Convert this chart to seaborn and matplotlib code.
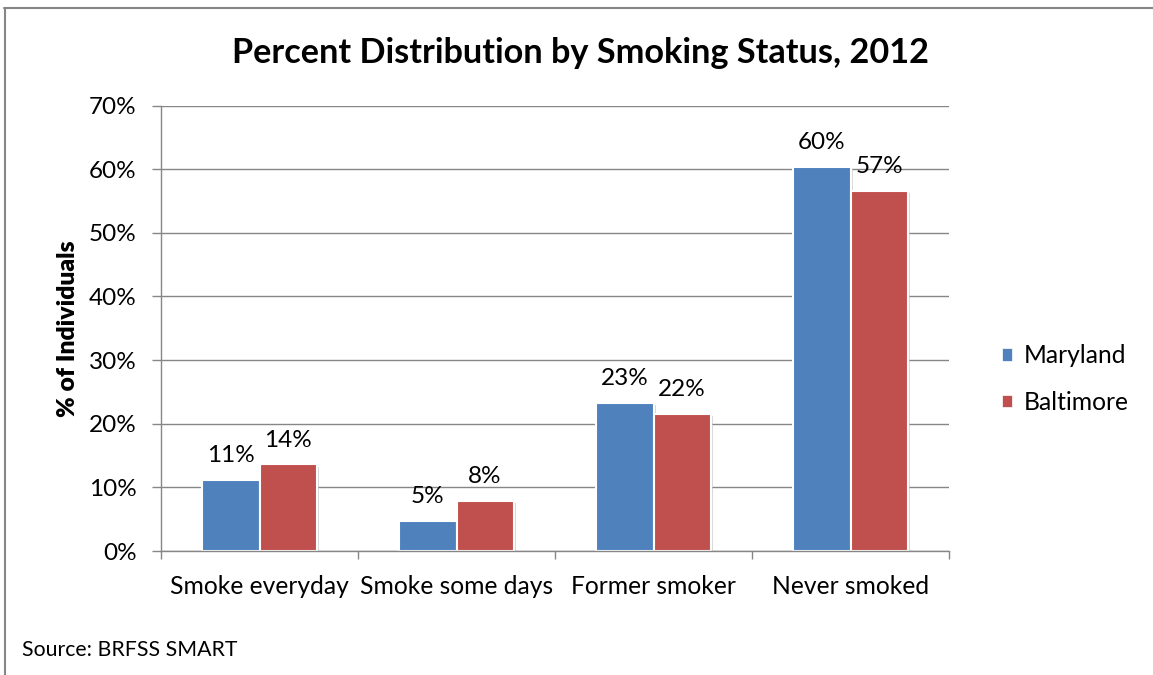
import matplotlib
matplotlib.use("Agg")
import matplotlib.pyplot as plt
from matplotlib.lines import Line2D
from matplotlib.patches import Patch
from matplotlib.ticker import FixedLocator, PercentFormatter
import matplotlib.patheffects as pe
import pandas as pd
import seaborn as sns

# Smoking status shares (percent of individuals), 2012
categories = ["Smoke everyday", "Smoke some days", "Former smoker", "Never smoked"]
maryland = [11.2, 4.7, 23.3, 60.3]
baltimore = [13.6, 7.9, 21.6, 56.6]
series = ["Maryland", "Baltimore"]
colors = ["#4F81BD", "#C0504D"]
y_ticks = [0, 10, 20, 30, 40, 50, 60, 70]

df = pd.DataFrame({
    "status": categories * 2,
    "region": [series[0]] * len(categories) + [series[1]] * len(categories),
    "pct": maryland + baltimore,
})

sns.set_theme(style="white")
plt.rcParams["font.family"] = ["Lato", "DejaVu Sans"]
plt.rcParams["text.color"] = "black"

GRID = "#868686"
fig = plt.figure(figsize=(11.53, 6.75), dpi=100)
ax = fig.add_axes([161 / 1153, 1 - 551 / 675, (949 - 161) / 1153, (551 - 105.5) / 675])

sns.barplot(data=df, x="status", y="pct", hue="region", hue_order=series,
            order=categories, palette=colors, width=0.58, gap=0,
            edgecolor="white", linewidth=1.5, saturation=1, ax=ax, legend=False)

shadow = [pe.SimplePatchShadow(offset=(1.5, -1.5), shadow_rgbFace="#BFBFBF", alpha=0.6), pe.Normal()]
for cont in ax.containers:
    for bar in cont:
        bar.set_path_effects(shadow)
    ax.bar_label(cont, labels=[f"{v:.0f}%" for v in cont.datavalues],
                 padding=10, fontsize=17.5, color="black")

ax.set_ylim(0, 70)
ax.set_xlim(-0.5, len(categories) - 0.5)
ax.yaxis.set_major_locator(FixedLocator(y_ticks))
ax.yaxis.set_major_formatter(PercentFormatter(decimals=0))
ax.grid(axis="y", color=GRID, linewidth=1.0)
ax.set_axisbelow(True)

for side in ["top", "right"]:
    ax.spines[side].set_visible(False)
for side in ["left", "bottom"]:
    ax.spines[side].set_color(GRID)
    ax.spines[side].set_linewidth(1.0)

ax.tick_params(axis="y", which="major", direction="out", length=6.5, width=1.0,
               color=GRID, left=True, pad=11, labelsize=17.5, labelcolor="black")
ax.xaxis.set_minor_locator(FixedLocator([i - 0.5 for i in range(len(categories) + 1)]))
ax.tick_params(axis="x", which="minor", direction="out", length=5.5, width=1.0,
               color=GRID, bottom=True)
ax.tick_params(axis="x", which="major", length=0, pad=17, labelsize=17.7, labelcolor="black")

ax.set_xlabel("")
ax.set_ylabel("% of Individuals", fontsize=17.8, fontweight="heavy", labelpad=7,
              color="black")

fig.text(580 / 1153, 1 - 53 / 675, "Percent Distribution by Smoking Status, 2012",
         ha="center", va="center", fontsize=24.7, fontweight="bold", color="black")
fig.text(22 / 1153, 1 - 650 / 675, "Source: BRFSS SMART", ha="left", va="center",
         fontsize=15.3, color="black")

handles = [Patch(facecolor=c, edgecolor="white", linewidth=0.5) for c in colors]
fig.legend(handles, series, loc="center left", bbox_to_anchor=(980 / 1153, 1 - 379 / 675),
           frameon=False, fontsize=17.7, handlelength=0.42, handleheight=0.42,
           handletextpad=0.45, labelspacing=0.95)

# chart-area border
fig.add_artist(Line2D([4.5 / 1153, 4.5 / 1153], [0, 1 - 8 / 675], color=GRID, linewidth=1.5))
fig.add_artist(Line2D([4 / 1153, 1], [1 - 8 / 675, 1 - 8 / 675], color=GRID, linewidth=1.5))

fig.savefig("out.png", dpi=100)
